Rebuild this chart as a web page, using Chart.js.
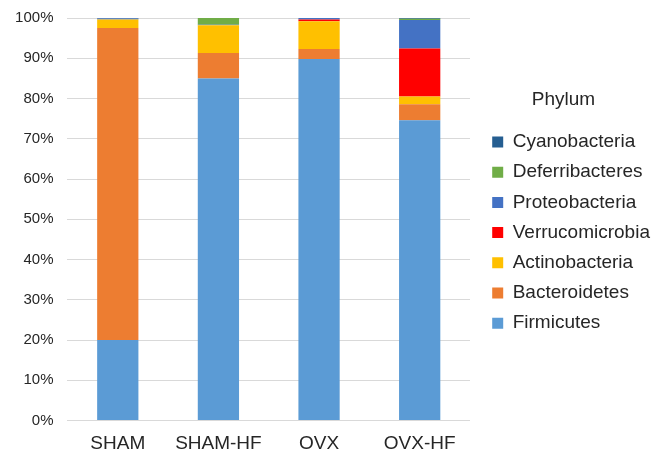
<!DOCTYPE html>
<html>
<head>
<meta charset="utf-8">
<style>
  html, body { margin: 0; padding: 0; background: #ffffff; overflow: hidden; }
  #wrap { width: 667px; height: 453px; position: relative; }
  #chart { display: block; }
</style>
<script src="https://cdn.jsdelivr.net/npm/chart.js@4.4.1/dist/chart.umd.min.js"></script>
</head>
<body>
<div id="wrap"><canvas id="chart" width="667" height="453"></canvas></div>
<script>
// Relative abundance (%) of each phylum per group
const groups = ['SHAM', 'SHAM-HF', 'OVX', 'OVX-HF'];
const phyla = ['Firmicutes', 'Bacteroidetes', 'Actinobacteria', 'Verrucomicrobia',
               'Proteobacteria', 'Deferribacteres', 'Cyanobacteria'];

const firmicutes      = [20.0, 85.0, 89.8, 74.6];
const bacteroidetes   = [77.5,  6.3,  2.5,  4.0];
const actinobacteria  = [ 2.1,  6.9,  6.9,  1.9];
const verrucomicrobia = [ 0.0,  0.0,  0.4, 11.9];
const proteobacteria  = [ 0.3,  0.1,  0.4,  7.1];
const deferribacteres = [ 0.0,  1.7,  0.0,  0.3];
const cyanobacteria   = [ 0.1,  0.0,  0.0,  0.2];

const yTicks = [0, 10, 20, 30, 40, 50, 60, 70, 80, 90, 100];

const seriesValues = [firmicutes, bacteroidetes, actinobacteria, verrucomicrobia,
                      proteobacteria, deferribacteres, cyanobacteria];
const seriesColors = ['#5B9BD5', '#ED7D31', '#FFC000', '#FF0000',
                      '#4472C4', '#70AD47', '#255E91'];

const FONT = "'Liberation Sans', Arial, sans-serif";
const TEXT = '#262626';

// Reserve space on the right for the legend, then pin its box where it should sit.
const LEGEND_SPACE = 197;
const LEGEND_OFFSET = 11;
const LEGEND_WIDTH = 165;
const legendPlacement = {
  id: 'legendPlacement',
  afterInit(chart) {
    const lg = chart.legend;
    const fit = lg.fit.bind(lg);
    lg.fit = function () { fit(); this.width = LEGEND_SPACE; };
  },
  afterLayout(chart) {
    const lg = chart.legend;
    lg.left = chart.chartArea.right + LEGEND_OFFSET;
    lg.width = LEGEND_WIDTH;      // title is centred over this width
    lg.right = chart.width;       // let the longest label run to the edge
  }
};

new Chart(document.getElementById('chart'), {
  type: 'bar',
  data: {
    labels: groups,
    datasets: phyla.map((name, i) => ({
      label: name,
      data: seriesValues[i],
      backgroundColor: seriesColors[i],
      borderWidth: 0,
      barPercentage: 0.41,
      categoryPercentage: 1.0
    }))
  },
  plugins: [legendPlacement],
  options: {
    responsive: false,
    animation: false,
    layout: { padding: { left: 1.1, top: 18, right: 0, bottom: -13.5 } },
    scales: {
      x: {
        stacked: true,
        grid: { display: false, drawTicks: false },
        border: { display: false },
        ticks: {
          padding: 13.5,
          color: TEXT,
          font: { family: FONT, size: 19, lineHeight: 1 }
        }
      },
      y: {
        stacked: true,
        min: 0,
        max: 100,
        afterBuildTicks(scale) { scale.ticks = yTicks.map(v => ({ value: v })); },
        grid: { color: '#d9d9d9', lineWidth: 1, drawTicks: false },
        border: { display: false },
        ticks: {
          padding: 14,
          color: TEXT,
          font: { family: FONT, size: 15, lineHeight: 0.5 },
          callback: v => v + '%'
        }
      }
    },
    plugins: {
      tooltip: { enabled: false },
      legend: {
        position: 'right',
        align: 'start',
        reverse: true,
        title: {
          display: true,
          text: 'Phylum',
          color: TEXT,
          font: { family: FONT, size: 19 },
          padding: { top: 72.5, bottom: 8 }
        },
        labels: {
          boxWidth: 11,
          boxHeight: 11,
          padding: 11.2,
          color: TEXT,
          font: { family: FONT, size: 19 }
        }
      }
    }
  }
});
</script>
</body>
</html>
